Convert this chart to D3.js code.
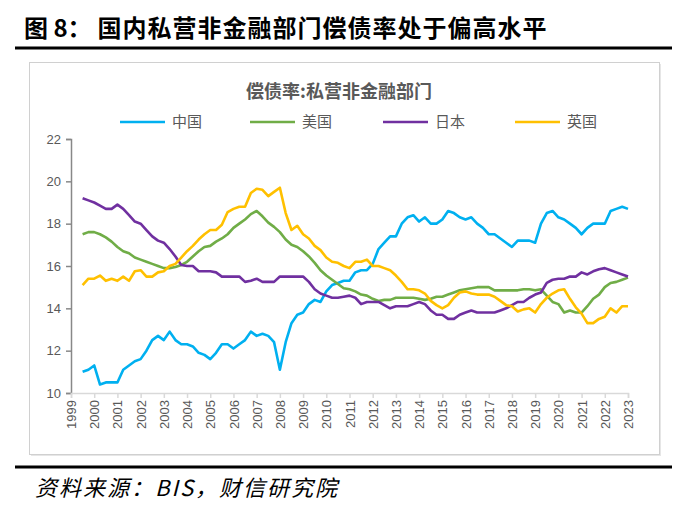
<!DOCTYPE html>
<html><head><meta charset="utf-8">
<script src="https://cdn.jsdelivr.net/npm/d3@7"></script>
<style>
html,body{margin:0;padding:0;background:#fff;}
svg{display:block;}
</style></head>
<body>
<svg id="c" width="687" height="517"></svg>
<script>
// ---- data ----
const years = d3.range(1999, 2024);               // tick labels
const quarters = d3.range(95).map(i => 1999.5 + i * 0.25); // x positions (quarterly)
const seriesNames = ["中国", "美国", "日本", "英国"];
const china = [11.0,11.1,11.3,10.4,10.5,10.5,10.5,11.1,11.3,11.5,11.6,12.0,12.5,12.7,12.5,12.9,12.5,12.3,12.3,12.2,11.9,11.8,
 11.6,11.9,12.3,12.3,12.1,12.3,12.5,12.9,12.7,12.8,12.7,12.4,11.1,12.4,13.3,13.7,13.8,14.2,14.4,14.3,14.8,15.1,15.2,15.3,
 15.3,15.7,15.8,15.8,16.1,16.8,17.1,17.4,17.4,18.0,18.3,18.4,18.1,18.3,18.0,18.0,18.2,18.6,18.5,18.3,18.2,18.3,18.0,17.8,
 17.5,17.5,17.3,17.1,16.9,17.2,17.2,17.2,17.1,18.0,18.5,18.6,18.3,18.2,18.0,17.8,17.5,17.8,18.0,18.0,18.0,18.6,18.7,18.8,18.7];
const usa = [17.5,17.6,17.6,17.5,17.35,17.15,16.9,16.7,16.6,16.4,16.3,16.2,16.1,16.0,15.9,15.9,15.95,16.05,16.2,16.45,16.7,16.9,
 16.95,17.15,17.3,17.5,17.8,18.0,18.2,18.45,18.6,18.35,18.05,17.85,17.6,17.25,17.0,16.9,16.7,16.45,16.15,15.8,15.55,15.35,15.15,14.95,
 14.9,14.8,14.65,14.6,14.45,14.35,14.4,14.4,14.5,14.5,14.5,14.5,14.45,14.4,14.45,14.55,14.55,14.65,14.75,14.85,14.9,14.95,15.0,15.0,
 15.0,14.85,14.85,14.85,14.85,14.85,14.9,14.9,14.85,14.9,14.6,14.3,14.2,13.8,13.9,13.8,13.8,14.1,14.45,14.65,15.0,15.2,15.25,15.35,15.45];
const japan = [19.2,19.1,19.0,18.85,18.7,18.7,18.9,18.7,18.4,18.1,18.0,17.7,17.4,17.2,17.1,16.8,16.45,16.05,16.0,16.0,15.75,15.75,
 15.75,15.7,15.5,15.5,15.5,15.5,15.25,15.3,15.4,15.25,15.25,15.25,15.5,15.5,15.5,15.5,15.5,15.25,14.9,14.7,14.6,14.5,14.5,14.55,
 14.6,14.5,14.2,14.3,14.3,14.3,14.15,14.0,14.1,14.1,14.1,14.2,14.3,14.2,13.9,13.7,13.7,13.5,13.5,13.7,13.8,13.9,13.8,13.8,
 13.8,13.8,13.9,14.0,14.15,14.3,14.3,14.5,14.65,14.75,15.2,15.35,15.4,15.4,15.5,15.5,15.7,15.6,15.75,15.85,15.9,15.8,15.7,15.6,15.5];
const uk = [15.1,15.4,15.4,15.55,15.3,15.4,15.3,15.5,15.3,15.75,15.8,15.5,15.5,15.7,15.75,16.0,16.1,16.4,16.7,16.95,17.25,17.5,
 17.7,17.7,17.95,18.55,18.7,18.8,18.8,19.45,19.65,19.6,19.3,19.5,19.7,18.5,17.7,17.9,17.5,17.3,16.95,16.75,16.4,16.2,16.15,16.0,
 15.9,16.2,16.2,16.3,16.0,16.0,15.9,15.8,15.55,15.25,14.9,14.9,14.85,14.7,14.35,14.15,14.0,14.15,14.5,14.75,14.8,14.7,14.65,14.65,
 14.65,14.55,14.35,14.15,14.1,13.85,13.95,14.0,13.8,14.2,14.5,14.7,14.85,14.9,14.45,14.05,13.75,13.3,13.3,13.5,13.6,14.0,13.8,14.1,14.1];
const yTicks = [10, 12, 14, 16, 18, 20, 22];
const colors = ["#00B0F0", "#70AD47", "#7030A0", "#FFC000"];
const allSeries = [china, usa, japan, uk];

// ---- drawing ----
const svg = d3.select("#c");
const CJK = "'Noto Sans CJK SC','Noto Sans',sans-serif";
const LAT = "'Liberation Sans',Arial,sans-serif";

// page title
const t = svg.append("text").attr("x", 24).attr("y", 37)
  .attr("font-family", CJK).attr("font-weight", 700).attr("font-size", 24).attr("fill", "#000");
t.append("tspan").text("图 8：");
t.append("tspan").attr("dx", 6).attr("letter-spacing", 1).text("国内私营非金融部门偿债率处于偏高水平");
svg.append("line").attr("x1", 15).attr("x2", 672).attr("y1", 48).attr("y2", 48)
  .attr("stroke", "#000").attr("stroke-width", 3);

// chart box with soft shadow
svg.append("rect").attr("x", 31).attr("y", 64).attr("width", 630).attr("height", 392)
  .attr("fill", "#e6e6e6");
svg.append("rect").attr("x", 29.5).attr("y", 62.5).attr("width", 630).attr("height", 392)
  .attr("fill", "#fff").attr("stroke", "#d0d0d0").attr("stroke-width", 1);

// chart title
svg.append("text").attr("x", 339).attr("y", 98).attr("text-anchor", "middle")
  .attr("font-family", CJK).attr("font-weight", 700).attr("font-size", 18).attr("fill", "#595959")
  .text("偿债率:私营非金融部门");

// scales
const x = d3.scaleLinear().domain([1999, 2023]).range([71, 628]);
const y = d3.scaleLinear().domain([10, 22]).range([393, 139]);

// y axis
const yAxis = svg.append("g").attr("transform", "translate(71,0)")
  .call(d3.axisLeft(y).tickValues(yTicks).tickSize(5).tickPadding(5).tickFormat(d3.format("d")));
yAxis.select(".domain").attr("stroke", "#888").attr("stroke-width", 1.5);
yAxis.selectAll(".tick line").attr("stroke", "#888").attr("stroke-width", 1.5);
yAxis.selectAll("text").attr("font-family", LAT).attr("font-size", 13).attr("fill", "#595959");

// x axis
const xAxis = svg.append("g").attr("transform", "translate(0,393)")
  .call(d3.axisBottom(x).tickValues(years).tickSize(5).tickFormat(d3.format("d")));
xAxis.select(".domain").attr("stroke", "#d9d9d9").attr("stroke-width", 1.5);
xAxis.selectAll(".tick line").attr("stroke", "#d9d9d9").attr("stroke-width", 1.5);
xAxis.selectAll("text").attr("font-family", LAT).attr("font-size", 13).attr("fill", "#595959")
  .attr("transform", "rotate(-90)").attr("text-anchor", "end")
  .attr("x", -7).attr("y", 0).attr("dy", "0.35em");

// lines
const line = d3.line().x((d, i) => x(quarters[i])).y(d => y(d));
allSeries.forEach((s, i) => {
  svg.append("path").datum(s).attr("d", line).attr("fill", "none")
    .attr("stroke", colors[i]).attr("stroke-width", 2.6).attr("stroke-linejoin", "round");
});

// legend
const legX = [120, 250, 383, 515];
seriesNames.forEach((n, i) => {
  svg.append("line").attr("x1", legX[i]).attr("x2", legX[i] + 45).attr("y1", 122).attr("y2", 122)
    .attr("stroke", colors[i]).attr("stroke-width", 2.6);
  svg.append("text").attr("x", legX[i] + 52).attr("y", 127)
    .attr("font-family", CJK).attr("font-size", 15).attr("fill", "#595959").text(n);
});

// bottom rule + source
svg.append("line").attr("x1", 15).attr("x2", 672).attr("y1", 467).attr("y2", 467)
  .attr("stroke", "#000").attr("stroke-width", 3);
svg.append("text").attr("x", 35).attr("y", 496)
  .attr("font-family", CJK).attr("font-style", "italic").attr("font-size", 22).attr("fill", "#000")
  .attr("letter-spacing", 2)
  .text("资料来源：BIS，财信研究院");
</script>
</body></html>
